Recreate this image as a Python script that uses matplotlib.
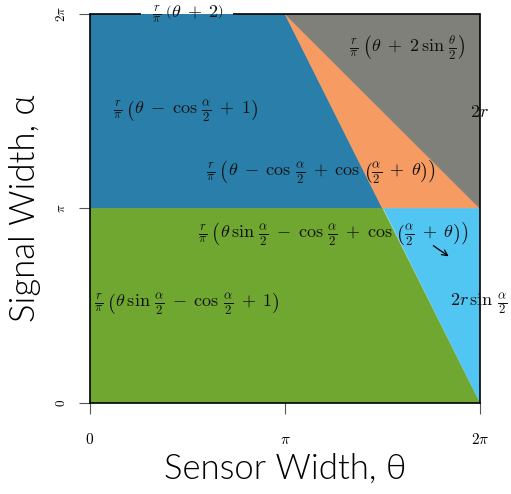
import numpy as np
import matplotlib
matplotlib.use("Agg")
from matplotlib import pyplot as plt

plt.rcParams['mathtext.fontset'] = 'cm'

PI = np.pi

# corners of each region, (theta, alpha) in units of pi
regions = {
    'blue':   [(0, 1), (1.5, 1), (1, 2), (0, 2)],
    'orange': [(1, 2), (1.5, 1), (2, 1)],
    'grey':   [(1, 2), (2, 1), (2, 2)],
    'green':  [(0, 0), (2, 0), (1.5, 1), (0, 1)],
    'sky':    [(1.5, 1), (2, 1), (2, 0)],
}
colors = {
    'blue': '#2a7faa',
    'orange': '#f69b62',
    'grey': '#80807a',
    'green': '#6fa730',
    'sky': '#52c6f2',
}

P, M = r'\;+\;', r'\;-\;'
# region formulas and where they sit (units of pi)
labels = [
    (r'$\frac{r}{\pi}\;\left(\theta' + P + r'2\right)$', 0.503, 2.0, 'center'),
    (r'$\frac{r}{\pi}\;\left(\theta' + P + r'2\,\sin\,\frac{\theta}{2}\right)$', 1.626, 1.83, 'center'),
    (r'$2r$', 1.995, 1.496, 'center'),
    (r'$\frac{r}{\pi}\;\left(\theta' + M + r'\cos\,\frac{\alpha}{2}' + P + r'1\right)$', 0.492, 1.506, 'center'),
    (r'$\frac{r}{\pi}\;\left(\theta' + M + r'\cos\,\frac{\alpha}{2}' + P
     + r'\cos\,\left(\frac{\alpha}{2}' + P + r'\theta\right)\right)$', 1.185, 1.188, 'center'),
    (r'$\frac{r}{\pi}\;\left(\theta\,\sin\,\frac{\alpha}{2}' + M + r'\cos\,\frac{\alpha}{2}' + P
     + r'\cos\,\left(\frac{\alpha}{2}' + P + r'\theta\right)\right)$', 1.246, 0.874, 'center'),
    (r'$\frac{r}{\pi}\;\left(\theta\,\sin\,\frac{\alpha}{2}' + M + r'\cos\,\frac{\alpha}{2}' + P
     + r'1\right)$', 0.497, 0.509, 'center'),
    (r'$2r\,\sin\,\frac{\alpha}{2}$', 1.846, 0.509, 'left'),
]
arrow_tail = (1.749, 0.817)
arrow_head = (1.851, 0.746)

# the top border stops where the top formula sits
top_gap = (0.26, 0.735)

tick_vals = [0, 1, 2]
tick_text = [r'$0$', r'$\pi$', r'$2\pi$']

fig = plt.figure(figsize=(5.11, 4.94), dpi=100)
ax = fig.add_axes([90 / 511, 91 / 494, 390 / 511, 389 / 494])

for name, pts in regions.items():
    pts = np.array(pts) * PI
    ax.fill(pts[:, 0], pts[:, 1], facecolor=colors[name],
            edgecolor=colors[name], lw=0.4, zorder=1)

for txt, x, y, ha in labels:
    ax.text(x * PI, y * PI, txt, ha=ha, va='center', fontsize=13,
            color='#111111', zorder=5, clip_on=False)

ax.annotate('', xy=(arrow_head[0] * PI, arrow_head[1] * PI),
            xytext=(arrow_tail[0] * PI, arrow_tail[1] * PI),
            arrowprops=dict(arrowstyle='->', color='black', lw=0.9), zorder=5)

ax.set_xlim(0, 2 * PI)
ax.set_ylim(0, 2 * PI)
ax.set_xticks(np.array(tick_vals) * PI)
ax.set_xticklabels(tick_text, fontsize=11)
ax.set_yticks(np.array(tick_vals) * PI)
ax.set_yticklabels(tick_text, fontsize=9.5, rotation=90, va='center')
ax.tick_params(axis='x', length=8, pad=13, color='#555555')
ax.tick_params(axis='y', length=8, pad=8, color='#555555')
for s in ax.spines.values():
    s.set_linewidth(1.2)
    s.set_zorder(3)
ax.spines['top'].set_visible(False)
for seg in [(0, top_gap[0]), (top_gap[1], 2)]:
    ax.plot(np.array(seg) * PI, [2 * PI, 2 * PI], color='black', lw=1.2,
            clip_on=False, zorder=3, solid_capstyle='butt')

ax.set_xlabel('Sensor Width, θ', family=['Lato', 'DejaVu Sans'],
              fontweight=300, fontsize=25, labelpad=4, color='black')
ax.set_ylabel('Signal Width, α', family=['Lato', 'DejaVu Sans'],
              fontweight=300, fontsize=25, labelpad=10, color='black')

fig.savefig('out.png', dpi=100)
